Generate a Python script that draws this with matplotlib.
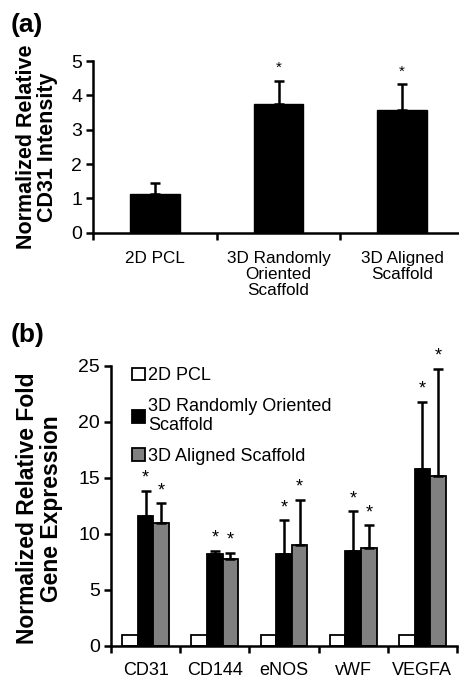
import matplotlib
matplotlib.use("Agg")
import matplotlib.pyplot as plt
import numpy as np

plt.rcParams['font.family'] = ['Liberation Sans', 'DejaVu Sans']

# Panel (a)
a_categories = ["2D PCL", "3D Randomly\nOriented\nScaffold", "3D Aligned\nScaffold"]
a_values = [1.12, 3.75, 3.58]
a_errors = [0.32, 0.68, 0.75]
a_sig = [False, True, True]

# Panel (b)
b_genes = ["CD31", "CD144", "eNOS", "vWF", "VEGFA"]
b_series = ["2D PCL", "3D Randomly Oriented\nScaffold", "3D Aligned Scaffold"]
b_pcl = [1.0, 1.0, 1.0, 1.0, 1.0]
b_random = [11.6, 8.15, 8.15, 8.5, 15.8]
b_random_err = [2.25, 0.3, 3.05, 3.5, 5.95]
b_aligned = [11.0, 7.7, 8.95, 8.75, 15.15]
b_aligned_err = [1.7, 0.6, 4.1, 2.0, 9.55]
b_colors = ["white", "black", "#808080"]

W, H = 460, 679
fig = plt.figure(figsize=(W / 100, H / 100), dpi=100)

# ---------- panel (a)
axa = fig.add_axes([93.3 / W, 1 - 232.7 / H, (460 - 93.3) / W, (232.7 - 61) / H])
xa = np.arange(len(a_categories))
axa.bar(xa, a_values, width=0.4, color="black", edgecolor="black", linewidth=1)
axa.errorbar(xa, a_values, yerr=[np.zeros(len(a_values)), a_errors], fmt="none",
             ecolor="black", elinewidth=1.8, capsize=3.5, capthick=1.8)
for x, v, e, s in zip(xa, a_values, a_errors, a_sig):
    if s:
        axa.annotate("*", (x, v + e), xytext=(0, 4), textcoords="offset points",
                     ha="center", va="bottom", fontsize=11)
axa.set_xlim(-0.5, 2.47)
axa.set_ylim(0, 5)
axa.set_yticks(range(0, 6))
axa.set_xticks([-0.5, 0.5, 1.5])
axa.set_xticklabels([])
axa.set_xticks(xa, minor=True)
axa.set_xticklabels(a_categories, minor=True, fontsize=12.3, linespacing=1.1)
axa.tick_params(axis="x", which="minor", length=0, pad=13)
axa.tick_params(axis="x", which="major", direction="out", length=5, width=1.8)
axa.tick_params(axis="y", direction="out", length=5, width=1.8, labelsize=14, pad=3)
for sp in ["top", "right"]:
    axa.spines[sp].set_visible(False)
for sp in ["left", "bottom"]:
    axa.spines[sp].set_linewidth(1.8)
axa.set_ylabel("Normalized Relative\nCD31 Intensity", fontsize=15.5, fontweight="bold",
               linespacing=1.05)
axa.yaxis.set_label_coords(-0.095, 0.5)
fig.text(11 / W, 1 - 25 / H, "(a)", fontsize=19, fontweight="bold", ha="left", va="center")

# ---------- panel (b)
axb = fig.add_axes([111 / W, 1 - 645.7 / H, (457 - 111) / W, (645.7 - 365.7) / H])
xb = np.arange(len(b_genes))
bw = 0.225
axb.bar(xb - bw, b_pcl, width=bw, color=b_colors[0], edgecolor="black", linewidth=1.3,
        label=b_series[0])
axb.bar(xb, b_random, width=bw, color=b_colors[1], edgecolor="black", linewidth=1.3,
        label=b_series[1])
axb.bar(xb + bw, b_aligned, width=bw, color=b_colors[2], edgecolor="black", linewidth=1.3,
        label=b_series[2])
for off, vals, errs in [(0, b_random, b_random_err), (bw, b_aligned, b_aligned_err)]:
    axb.errorbar(xb + off, vals, yerr=[np.zeros(len(vals)), errs], fmt="none",
                 ecolor="black", elinewidth=1.8, capsize=3.5, capthick=1.8)
    for x, v, e in zip(xb + off, vals, errs):
        axb.annotate("*", (x, v + e), xytext=(0, 3), textcoords="offset points",
                     ha="center", va="bottom", fontsize=13, annotation_clip=False)
axb.set_xlim(-0.5, 4.5)
axb.set_ylim(0, 25)
axb.set_yticks(range(0, 26, 5))
axb.set_xticks(np.arange(-0.5, 4.6, 1))
axb.set_xticklabels([])
axb.set_xticks(xb, minor=True)
axb.set_xticklabels(b_genes, minor=True, fontsize=13)
axb.tick_params(axis="x", which="minor", length=0, pad=12)
axb.tick_params(axis="x", which="major", direction="out", length=5, width=1.8)
axb.tick_params(axis="y", direction="out", length=5, width=1.8, labelsize=14, pad=3)
for sp in ["top", "right"]:
    axb.spines[sp].set_visible(False)
for sp in ["left", "bottom"]:
    axb.spines[sp].set_linewidth(1.8)
axb.set_ylabel("Normalized Relative Fold\nGene Expression", fontsize=16.5, fontweight="bold",
               linespacing=1.05)
axb.yaxis.set_label_coords(-0.14, 0.49)
leg = axb.legend(loc="upper left", bbox_to_anchor=(0.04, 1.02), frameon=False,
                 fontsize=13, handlelength=0.7, handleheight=0.7, handletextpad=0.2,
                 labelspacing=0.75, borderaxespad=0)
fig.text(11 / W, 1 - 335 / H, "(b)", fontsize=19, fontweight="bold", ha="left", va="center")

fig.savefig("out.png", dpi=100)
